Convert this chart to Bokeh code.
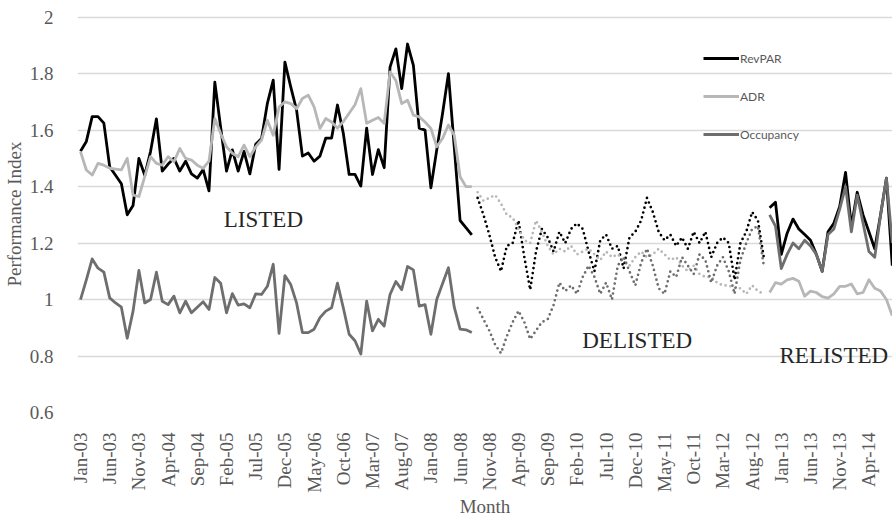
import math
from bokeh.plotting import figure
from bokeh.models import Range1d, FixedTicker, Label, Legend, LegendItem
from bokeh.embed import file_html
from bokeh.resources import INLINE

tick_labels = ["Jan-03", "Jun-03", "Nov-03", "Apr-04", "Sep-04", "Feb-05", "Jul-05",
               "Dec-05", "May-06", "Oct-06", "Mar-07", "Aug-07", "Jan-08", "Jun-08",
               "Nov-08", "Apr-09", "Sep-09", "Feb-10", "Jul-10", "Dec-10", "May-11",
               "Oct-11", "Mar-12", "Aug-12", "Jan-13", "Jun-13", "Nov-13", "Apr-14"]
tick_step = 5
y_ticks = [0.6, 0.8, 1.0, 1.2, 1.4, 1.6, 1.8, 2.0]
y_tick_labels = ["0.6", "0.8", "1", "1.2", "1.4", "1.6", "1.8", "2"]

# Listed period: Jan-03 .. Aug-08
revpar_listed = [1.525, 1.56, 1.648, 1.648, 1.625, 1.47, 1.44, 1.41, 1.30, 1.333,
                 1.50, 1.44, 1.525, 1.64, 1.455, 1.48, 1.50, 1.455, 1.49, 1.445,
                 1.43, 1.46, 1.385, 1.77, 1.61, 1.455, 1.53, 1.455, 1.525, 1.445,
                 1.55, 1.57, 1.695, 1.777, 1.461, 1.841, 1.753, 1.671, 1.508, 1.519,
                 1.49, 1.508, 1.572, 1.572, 1.689, 1.589, 1.443, 1.443, 1.402, 1.607,
                 1.443, 1.531, 1.467, 1.823, 1.888, 1.747, 1.905, 1.829, 1.607, 1.60,
                 1.396, 1.53, 1.66, 1.80, 1.54, 1.28, 1.255, 1.229]
adr_listed = [1.524, 1.459, 1.441, 1.482, 1.476, 1.465, 1.462, 1.459, 1.50, 1.37,
              1.365, 1.435, 1.506, 1.482, 1.476, 1.506, 1.488, 1.535, 1.50, 1.494,
              1.476, 1.465, 1.49, 1.641, 1.588, 1.541, 1.518, 1.506, 1.547, 1.506,
              1.541, 1.565, 1.635, 1.582, 1.682, 1.70, 1.694, 1.676, 1.712, 1.724,
              1.682, 1.606, 1.641, 1.629, 1.607, 1.63, 1.66, 1.69, 1.747, 1.624,
              1.635, 1.645, 1.624, 1.806, 1.776, 1.694, 1.706, 1.653, 1.647, 1.629,
              1.606, 1.541, 1.571, 1.618, 1.582, 1.435, 1.40, 1.40]
occ_listed = [1.0, 1.07, 1.144, 1.111, 1.097, 1.006, 0.988, 0.973, 0.863, 0.959,
              1.103, 0.988, 1.0, 1.097, 0.994, 0.982, 1.012, 0.953, 0.994, 0.953,
              0.973, 0.992, 0.965, 1.078, 1.058, 0.953, 1.021, 0.98, 0.985, 0.971,
              1.02, 1.018, 1.047, 1.125, 0.88, 1.085, 1.053, 0.988, 0.883, 0.883,
              0.895, 0.936, 0.959, 0.971, 1.058, 0.971, 0.877, 0.854, 0.807, 0.994,
              0.889, 0.93, 0.906, 1.018, 1.064, 1.035, 1.117, 1.105, 0.977, 0.982,
              0.877, 1.0, 1.057, 1.113, 0.973, 0.895, 0.893, 0.883]

# Delisted period: Sep-08 .. Oct-12
revpar_delisted = [1.36, 1.30, 1.23, 1.15, 1.10, 1.19, 1.20, 1.28, 1.15, 1.035,
                   1.17, 1.25, 1.22, 1.17, 1.24, 1.20, 1.25, 1.27, 1.25, 1.17,
                   1.10, 1.21, 1.23, 1.18, 1.19, 1.11, 1.22, 1.24, 1.28, 1.36,
                   1.31, 1.24, 1.21, 1.23, 1.19, 1.22, 1.18, 1.24, 1.20, 1.24,
                   1.15, 1.20, 1.22, 1.20, 1.07, 1.20, 1.24, 1.31, 1.28, 1.15]
adr_delisted = [1.38, 1.35, 1.36, 1.37, 1.34, 1.30, 1.29, 1.25, 1.21, 1.20,
                1.28, 1.24, 1.19, 1.16, 1.18, 1.17, 1.19, 1.16, 1.17, 1.18,
                1.16, 1.14, 1.17, 1.15, 1.16, 1.14, 1.12, 1.15, 1.17, 1.15,
                1.16, 1.18, 1.16, 1.14, 1.15, 1.12, 1.10, 1.12, 1.09, 1.08,
                1.08, 1.06, 1.05, 1.05, 1.04, 1.04, 1.02, 1.05, 1.03, 1.02]
occ_delisted = [0.97, 0.93, 0.89, 0.84, 0.81, 0.87, 0.92, 0.96, 0.92, 0.86,
                0.89, 0.92, 0.93, 0.98, 1.06, 1.03, 1.05, 1.02, 1.08, 1.12,
                1.08, 1.02, 1.06, 1.00, 1.12, 1.15, 1.10, 1.05, 1.13, 1.18,
                1.12, 1.04, 1.02, 1.10, 1.08, 1.15, 1.12, 1.09, 1.16, 1.14,
                1.06, 1.12, 1.15, 1.10, 1.02, 1.14, 1.20, 1.25, 1.26, 1.12]

# Relisted period: Nov-12 .. Aug-14
revpar_relisted = [1.325, 1.345, 1.16, 1.235, 1.285, 1.25, 1.23, 1.21, 1.16, 1.10, 1.24,
                   1.27, 1.33, 1.45, 1.26, 1.38, 1.30, 1.24, 1.18, 1.30, 1.43, 1.12]
adr_relisted = [1.025, 1.06, 1.055, 1.07, 1.075, 1.065, 1.012, 1.03, 1.025, 1.01, 1.005,
                1.02, 1.047, 1.047, 1.055, 1.02, 1.025, 1.07, 1.04, 1.03, 1.0, 0.943]
occ_relisted = [1.30, 1.26, 1.11, 1.16, 1.20, 1.18, 1.21, 1.19, 1.16, 1.10, 1.23,
                1.25, 1.32, 1.40, 1.24, 1.37, 1.27, 1.17, 1.15, 1.30, 1.43, 1.20]

n1 = len(revpar_listed)
n2 = len(revpar_delisted)
n3 = len(revpar_relisted)
x_listed = list(range(0, n1))
x_delisted = list(range(n1, n1 + n2))
x_relisted = list(range(n1 + n2, n1 + n2 + n3))

BLACK = "#000000"
LIGHT = "#b7b7b7"
DARK = "#6e6e6e"
TXT = "#595959"
SERIF = "Liberation Serif"

p = figure(width=892, height=519, output_backend="svg", toolbar_location=None,
           x_range=Range1d(-0.514, 139.04), y_range=Range1d(0.5823, 2.0237),
           min_border_left=77, min_border_right=0, min_border_top=10,
           min_border_bottom=101)
p.outline_line_color = None
p.xgrid.visible = False
p.ygrid.ticker = FixedTicker(ticks=y_ticks[1:])
p.ygrid.grid_line_color = "#d9d9d9"
p.ygrid.grid_line_width = 1.5

# y axis
p.yaxis.ticker = FixedTicker(ticks=y_ticks)
p.yaxis.major_label_overrides = {t: s for t, s in zip(y_ticks, y_tick_labels)}
p.yaxis.axis_label = "Performance Index"
p.yaxis.major_label_standoff = 18
p.yaxis.axis_label_standoff = 2

# x axis
xt = [tick_step * k for k in range(len(tick_labels))]
p.xaxis.ticker = FixedTicker(ticks=xt)
p.xaxis.major_label_overrides = {t: s for t, s in zip(xt, tick_labels)}
p.xaxis.major_label_orientation = math.pi / 2
p.xaxis.axis_label = "Month"
p.xaxis.major_label_standoff = 9
p.xaxis.axis_label_standoff = 0

for ax in (p.xaxis[0], p.yaxis[0]):
    ax.axis_line_color = None
    ax.major_tick_line_color = None
    ax.minor_tick_line_color = None
    ax.major_label_text_font = SERIF
    ax.major_label_text_font_size = "19px"
    ax.major_label_text_color = TXT
    ax.axis_label_text_font = SERIF
    ax.axis_label_text_font_size = "19px"
    ax.axis_label_text_font_style = "normal"
    ax.axis_label_text_color = TXT

LW = 2.8
DW = 2.7
DASH = "0 5"

# Listed (solid)
r_rev = p.line(x_listed, revpar_listed, line_color=BLACK, line_width=LW, line_join="round")
r_adr = p.line(x_listed, adr_listed, line_color=LIGHT, line_width=LW, line_join="round")
r_occ = p.line(x_listed, occ_listed, line_color=DARK, line_width=LW, line_join="round")

# Delisted (dotted)
p.line(x_delisted, revpar_delisted, line_color=BLACK, line_width=DW, line_dash=DASH, line_cap="round")
p.line(x_delisted, adr_delisted, line_color=LIGHT, line_width=DW, line_dash=DASH, line_cap="round")
p.line(x_delisted, occ_delisted, line_color=DARK, line_width=DW, line_dash=DASH, line_cap="round")

# Relisted (solid)
p.line(x_relisted, revpar_relisted, line_color=BLACK, line_width=LW, line_join="round")
p.line(x_relisted, adr_relisted, line_color=LIGHT, line_width=LW, line_join="round")
p.line(x_relisted, occ_relisted, line_color=DARK, line_width=LW, line_join="round")

legend = Legend(items=[LegendItem(label="RevPAR", renderers=[r_rev]),
                       LegendItem(label="ADR", renderers=[r_adr]),
                       LegendItem(label="Occupancy", renderers=[r_occ])],
                location=(626, 273), orientation="vertical",
                glyph_width=36, glyph_height=20, label_height=20, label_width=20,
                spacing=18, label_standoff=1, padding=0, margin=0,
                border_line_color=None, background_fill_alpha=0,
                label_text_font="Lato", label_text_font_size="12px",
                label_text_color=TXT)
p.add_layout(legend)

for txt, lx, ly in (("LISTED", 24.54, 1.2841), ("DELISTED", 85.91, 0.8546), ("RELISTED", 119.69, 0.8016)):
    p.add_layout(Label(x=lx, y=ly, text=txt, text_font=SERIF, text_font_size="23px",
                       text_color="#262626", text_align="left", text_baseline="alphabetic"))

open("out.html", "w").write(file_html(p, INLINE))
